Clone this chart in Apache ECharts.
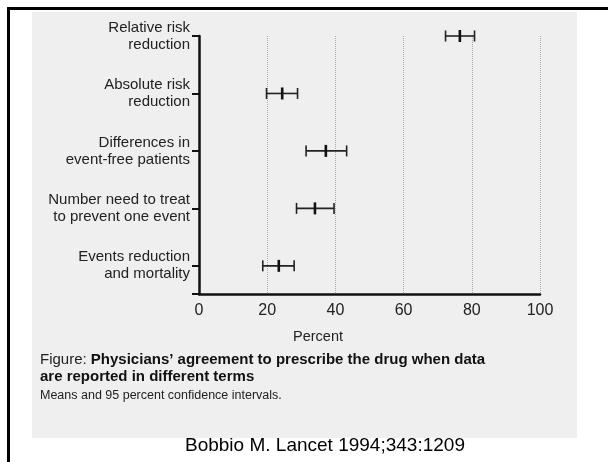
<!DOCTYPE html>
<html><head><meta charset="utf-8">
<script src="https://cdn.jsdelivr.net/npm/echarts@6/dist/echarts.min.js"></script>
<style>html,body{margin:0;padding:0;background:#fff}#c{width:608px;height:462px}</style>
</head><body><div id="c"></div>
<script>
const categories = ["Relative risk\nreduction","Absolute risk\nreduction","Differences in\nevent-free patients","Number need to treat\nto prevent one event","Events reduction\nand mortality"];
const lowValues  = [72.3, 19.8, 31.4, 28.6, 18.7];
const meanValues = [76.5, 24.4, 37.2, 34.0, 23.4];
const highValues = [80.8, 28.9, 43.3, 39.6, 27.9];
const xTicks = [0, 20, 40, 60, 80, 100];

const FONT = '"Liberation Sans", Arial, sans-serif';
const data = categories.map((c, i) => [lowValues[i], meanValues[i], highValues[i], i]);

const chart = echarts.init(document.getElementById('c'), null, {renderer: 'canvas'});
chart.setOption({
  animation: false,
  backgroundColor: '#ffffff',
  graphic: [
    {type: 'rect', z: -10, shape: {x: 32, y: 12, width: 545, height: 426}, style: {fill: '#efefef'}},
    {type: 'rect', z: 10, shape: {x: 8.5, y: 8.5, width: 700, height: 600}, style: {fill: null, stroke: '#000', lineWidth: 3}},
    {type: 'text', left: 293, top: 329, style: {text: 'Percent', font: '14.5px ' + FONT, fill: '#222'}},
    {type: 'text', left: 40, top: 352, style: {
      text: '{r|Figure: }{b|Physicians\u2019 agreement to prescribe the drug when data}',
      rich: {r: {font: '15px ' + FONT, fill: '#222'}, b: {font: 'bold 15px ' + FONT, fill: '#111'}}
    }},
    {type: 'text', left: 40, top: 369, style: {text: 'are reported in different terms', font: 'bold 15px ' + FONT, fill: '#111'}},
    {type: 'text', left: 40, top: 389, style: {text: 'Means and 95 percent confidence intervals.', font: '12.5px ' + FONT, fill: '#222'}},
    {type: 'text', left: 185, top: 436, style: {text: 'Bobbio M. Lancet 1994;343:1209', font: '19px ' + FONT, fill: '#000'}}
  ],
  grid: {left: 199, right: 68, top: 36, bottom: 168},
  xAxis: {
    type: 'value', min: xTicks[0], max: xTicks[xTicks.length - 1], interval: 20,
    axisLine: {onZero: false, lineStyle: {color: '#111', width: 2.5}},
    axisTick: {show: false},
    axisLabel: {color: '#222', fontSize: 16, fontFamily: FONT, margin: 9},
    splitLine: {show: true, lineStyle: {color: '#aaa', type: 'dotted', width: 1}}
  },
  yAxis: {
    type: 'value', inverse: true, min: 0, max: 4.49, interval: 1,
    axisLine: {show: true, onZero: false, lineStyle: {color: '#111', width: 2.5}},
    axisTick: {show: true, length: 7, lineStyle: {color: '#111', width: 2}},
    axisLabel: {
      color: '#222', fontSize: 15, fontFamily: FONT, lineHeight: 17, margin: 9, align: 'right',
      formatter: v => (Number.isInteger(v) && categories[v] !== undefined) ? categories[v] : ''
    },
    splitLine: {show: false}
  },
  series: [{
    type: 'custom',
    data: data,
    encode: {x: [0, 1, 2], y: 3},
    renderItem: function (params, api) {
      const y = api.value(3);
      const lo = api.coord([api.value(0), y]);
      const mn = api.coord([api.value(1), y]);
      const hi = api.coord([api.value(2), y]);
      const st = {stroke: '#222', lineWidth: 1.6};
      const cap = 5.5;
      return {type: 'group', children: [
        {type: 'line', shape: {x1: lo[0], y1: lo[1], x2: hi[0], y2: hi[1]}, style: st},
        {type: 'line', shape: {x1: lo[0], y1: lo[1] - cap, x2: lo[0], y2: lo[1] + cap}, style: st},
        {type: 'line', shape: {x1: hi[0], y1: hi[1] - cap, x2: hi[0], y2: hi[1] + cap}, style: st},
        {type: 'line', shape: {x1: mn[0], y1: mn[1] - 6, x2: mn[0], y2: mn[1] + 6}, style: {stroke: '#111', lineWidth: 2.6}}
      ]};
    }
  }]
});
</script></body></html>
